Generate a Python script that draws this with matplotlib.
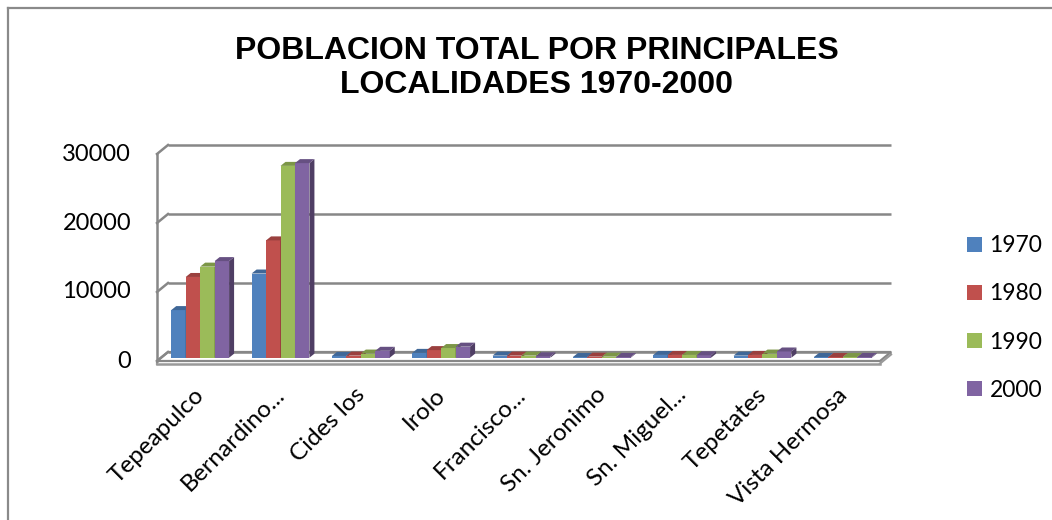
import matplotlib
matplotlib.use("Agg")
import matplotlib.pyplot as plt
import matplotlib.transforms as mtransforms
from matplotlib.patches import Polygon, Patch
from matplotlib.lines import Line2D
import matplotlib.colors as mcolors

# data
localidades = ["Tepeapulco", "Bernardino...", "Cides los", "Irolo", "Francisco...",
               "Sn. Jeronimo", "Sn. Miguel...", "Tepetates", "Vista Hermosa"]
anios = ["1970", "1980", "1990", "2000"]
p1970 = [6900, 12200, 250, 700, 300, 100, 400, 300, 100]
p1980 = [11700, 17000, 300, 1100, 300, 150, 400, 400, 100]
p1990 = [13200, 27800, 600, 1400, 300, 150, 400, 600, 100]
p2000 = [14000, 28200, 1000, 1600, 200, 100, 350, 900, 100]
series = [p1970, p1980, p1990, p2000]
colores = ["#4F81BD", "#C0504D", "#9BBB59", "#8064A2"]
yticks = [0, 10000, 20000, 30000]

W, H = 1052, 520
fig = plt.figure(figsize=(W / 100, H / 100), dpi=100)
fig.patch.set_facecolor("white")

# front plane of the 3d box, in pixels
x0px, x1px, y0px, y1px = 157, 880, 361, 154
ax = fig.add_axes([x0px / W, 1 - y0px / H, (x1px - x0px) / W, (y0px - y1px) / H])
n = len(localidades)
ax.set_xlim(-0.5, n - 0.5)
ax.set_ylim(0, 30000)
for s in ax.spines.values():
    s.set_visible(False)
ax.set_facecolor("none")

# pixel -> data units
ux = n / (x1px - x0px)
uy = 30000 / (y0px - y1px)
bdx, bdy = 11 * ux, 9 * uy      # depth of the whole box
fdx, fdy = 3 * ux, 3.3 * uy     # front of the bars
ddx, ddy = 5 * ux, 4 * uy       # depth of a bar

gris = "#878787"
xl, xr = -0.5, n - 0.5

# floor slab
floor = Polygon([(xl, 0), (xr, 0), (xr + bdx, bdy), (xl + bdx, bdy)], closed=True,
                facecolor="white", edgecolor=gris, lw=1.6, clip_on=False, zorder=1)
ax.add_patch(floor)
ax.plot([xl, xr], [-2.5 * uy, -2.5 * uy], color="#999999", lw=1.8, clip_on=False, zorder=1)
ax.plot([xl, xl], [0, -2.5 * uy], color="#999999", lw=1.6, clip_on=False, zorder=1)
ax.plot([xr, xr + bdx], [-2.5 * uy, bdy - 2.5 * uy], color="#999999", lw=1.6, clip_on=False, zorder=1)

# back wall grid + left wall
for v in yticks:
    ax.plot([xl + bdx, xr + bdx], [v + bdy, v + bdy], color=gris, lw=1.8,
            clip_on=False, zorder=1, solid_capstyle="butt")
    ax.plot([xl, xl + bdx], [v, v + bdy], color=gris, lw=1.8, clip_on=False, zorder=1)
ax.plot([xl, xl], [0, 30000], color=gris, lw=1.8, clip_on=False, zorder=1)


def shade(c, f):
    r, g, b = mcolors.to_rgb(c)
    return (r * f, g * f, b * f)


grupo = 0.72
bw = grupo / 4
z = 2
for i in range(n):
    for j, vals in enumerate(series):
        h = vals[i]
        a = i - grupo / 2 + j * bw + fdx
        b = a + bw
        y0 = fdy
        y1 = fdy + h
        c = colores[j]
        front = Polygon([(a, y0), (b, y0), (b, y1), (a, y1)], closed=True,
                        facecolor=c, edgecolor="none", clip_on=False, zorder=z)
        side = Polygon([(b, y0), (b + ddx, y0 + ddy), (b + ddx, y1 + ddy), (b, y1)], closed=True,
                       facecolor=shade(c, 0.62), edgecolor="none", clip_on=False, zorder=z)
        top = Polygon([(a, y1), (b, y1), (b + ddx, y1 + ddy), (a + ddx, y1 + ddy)], closed=True,
                      facecolor=shade(c, 0.8), edgecolor="none", clip_on=False, zorder=z)
        ax.add_patch(front)
        ax.add_patch(side)
        ax.add_patch(top)
        z += 0.01

# y labels on the front plane
ax.set_yticks([])
ylab_tr = mtransforms.blended_transform_factory(ax.transAxes, ax.transData) + \
    mtransforms.ScaledTranslation(-26 / 100, 0, fig.dpi_scale_trans)
for v in yticks:
    ax.text(0, v, str(v), transform=ylab_tr, ha="right", va="center",
            fontsize=17, family="Lato")

ax.set_xticks(range(n))
ax.set_xticklabels(localidades, fontsize=17.5, family="Lato", rotation=45,
                   ha="right", va="center", rotation_mode="anchor")
ax.tick_params(axis="x", length=0, pad=22)
off = mtransforms.ScaledTranslation(4 / 100, 0, fig.dpi_scale_trans)
for lab in ax.get_xticklabels():
    lab.set_transform(lab.get_transform() + off)

handles = [Patch(facecolor=c, edgecolor="none") for c in colores]
fig.legend(handles, anios, loc="center left", bbox_to_anchor=(946 / W, 1 - 318 / H),
           frameon=False, prop={"family": "Lato", "size": 16.5},
           handlelength=0.65, handleheight=0.65, handletextpad=0.35, labelspacing=1.18)

fig.text(537 / W, 1 - 68 / H, "POBLACION TOTAL POR PRINCIPALES\nLOCALIDADES 1970-2000",
         ha="center", va="center", fontsize=23, fontweight="bold",
         family="Liberation Sans", linespacing=1.2)

# chart border (only top and left visible)
fig.add_artist(Line2D([8 / W, 8 / W], [0, 1 - 8 / H], transform=fig.transFigure,
                      color="#8a8a8a", lw=1.6))
fig.add_artist(Line2D([8 / W, 1], [1 - 8 / H, 1 - 8 / H], transform=fig.transFigure,
                      color="#8a8a8a", lw=1.6))

fig.savefig("out.png", dpi=100)
